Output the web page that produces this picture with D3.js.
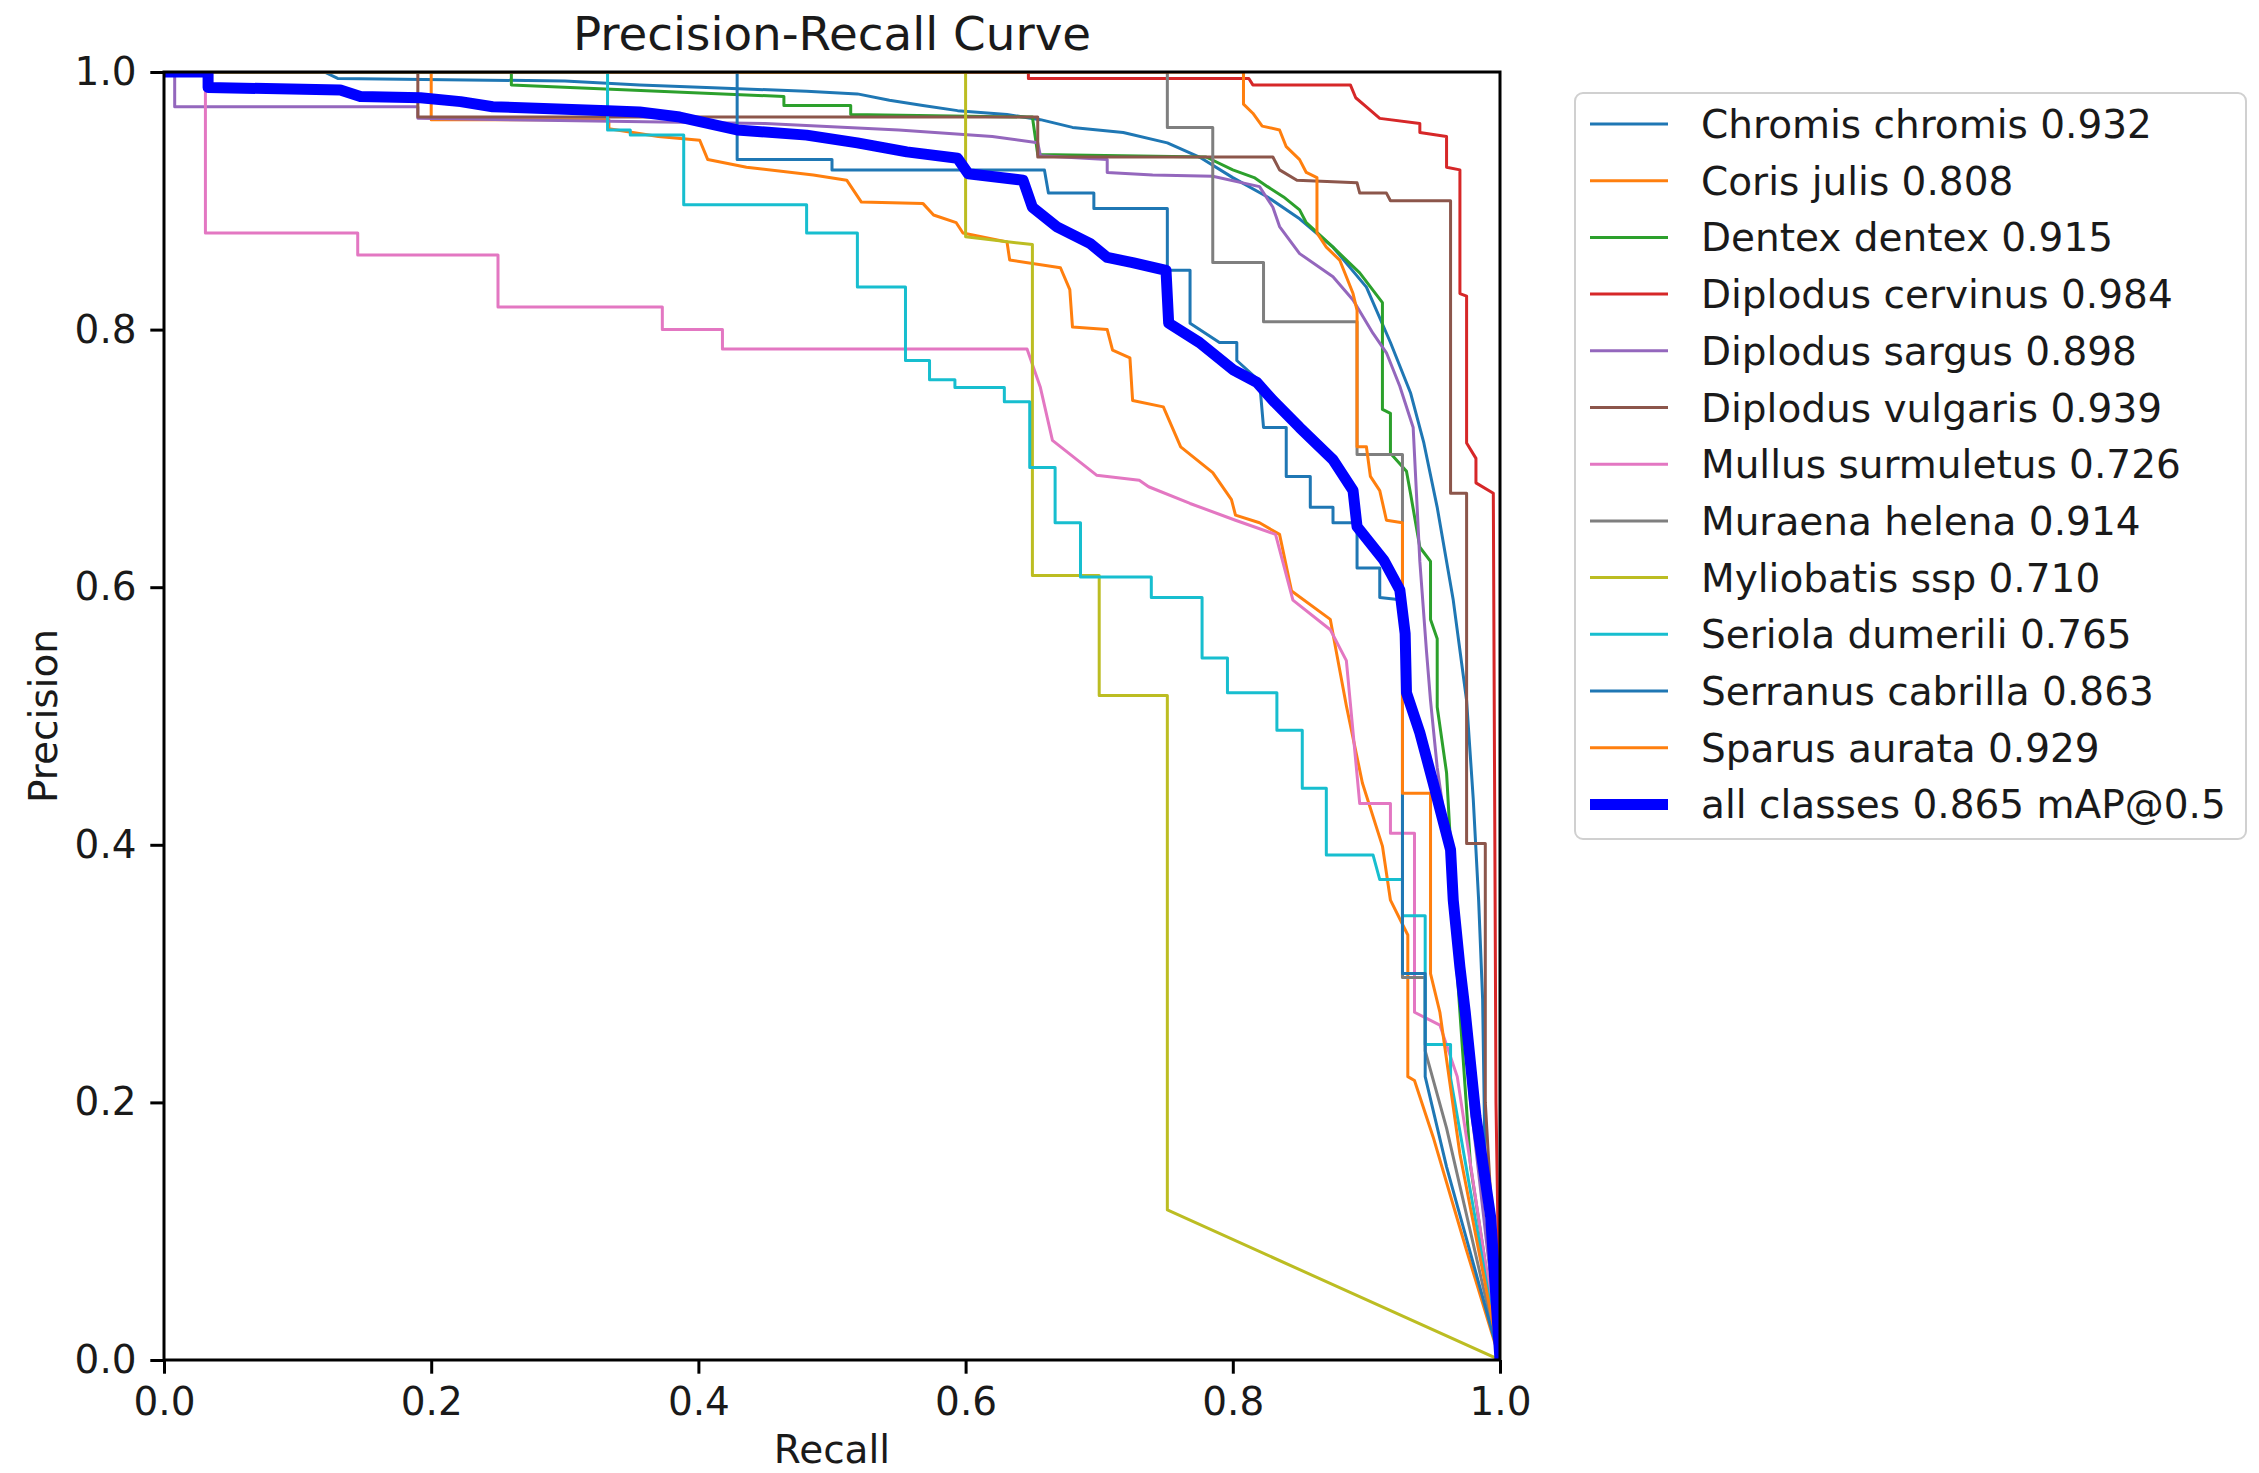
<!DOCTYPE html>
<html>
<head>
<meta charset="utf-8">
<script src="https://cdn.jsdelivr.net/npm/d3@7"></script>
<style>
  body { margin: 0; background: #fff; }
  svg { display: block; font-family: 'DejaVu Sans', sans-serif; }
</style>
</head>
<body>
<script>
// Chart settings
const width = 2259;
const height = 1473;
const margin = { top: 72, right: 759, bottom: 113, left: 164 };
const fontSize = 39;

// Data: class names and AP values
const classNames = [
  'Chromis chromis', 'Coris julis', 'Dentex dentex', 'Diplodus cervinus',
  'Diplodus sargus', 'Diplodus vulgaris', 'Mullus surmuletus', 'Muraena helena',
  'Myliobatis ssp', 'Seriola dumerili', 'Serranus cabrilla', 'Sparus aurata'
];
const classAP = [0.932, 0.808, 0.915, 0.984, 0.898, 0.939, 0.726, 0.914, 0.710, 0.765, 0.863, 0.929];
const allClassesAP = 0.865;

// Tick values
const xTicks = [0, 0.2, 0.4, 0.6, 0.8, 1.0];
const yTicks = [0, 0.2, 0.4, 0.6, 0.8, 1.0];

// Curves [recall, precision]
const chromisChromis = [[0,1],[0.12,1],[0.13,0.995],[0.3,0.993],[0.356,0.99],[0.406,0.988],[0.481,0.985],[0.519,0.983],[0.543,0.978],[0.568,0.974],[0.594,0.97],[0.631,0.967],[0.656,0.963],[0.68,0.957],[0.718,0.953],[0.751,0.945],[0.775,0.934],[0.8,0.918],[0.826,0.903],[0.85,0.886],[0.875,0.864],[0.9,0.833],[0.918,0.79],[0.933,0.751],[0.943,0.712],[0.953,0.662],[0.965,0.59],[0.975,0.512],[0.98,0.435],[0.984,0.357],[0.987,0.28],[0.989,0.14],[1,0]];
const corisJulis = [[0,1],[0.2,1],[0.2,0.963],[0.333,0.963],[0.333,0.956],[0.37,0.95],[0.401,0.947],[0.407,0.932],[0.436,0.926],[0.486,0.92],[0.511,0.916],[0.522,0.899],[0.568,0.898],[0.576,0.889],[0.593,0.883],[0.598,0.875],[0.631,0.868],[0.633,0.854],[0.671,0.848],[0.678,0.831],[0.68,0.802],[0.706,0.8],[0.71,0.784],[0.723,0.778],[0.725,0.745],[0.748,0.74],[0.761,0.709],[0.785,0.689],[0.799,0.668],[0.802,0.656],[0.82,0.65],[0.835,0.641],[0.844,0.597],[0.873,0.575],[0.885,0.508],[0.897,0.448],[0.912,0.399],[0.918,0.357],[0.931,0.33],[0.931,0.22],[0.936,0.217],[0.95,0.173],[0.975,0.085],[1,0]];
const dentexDentex = [[0,1],[0.26,1],[0.26,0.99],[0.37,0.985],[0.464,0.981],[0.464,0.974],[0.514,0.974],[0.514,0.967],[0.65,0.965],[0.654,0.936],[0.78,0.934],[0.8,0.924],[0.816,0.918],[0.826,0.911],[0.838,0.903],[0.85,0.893],[0.855,0.883],[0.875,0.864],[0.895,0.844],[0.912,0.821],[0.912,0.738],[0.918,0.735],[0.918,0.704],[0.93,0.69],[0.933,0.673],[0.94,0.631],[0.948,0.62],[0.948,0.575],[0.953,0.56],[0.953,0.507],[0.96,0.456],[0.963,0.4],[0.968,0.3],[0.978,0.15],[1,0]];
const diplodusCervinus = [[0,1],[0.647,1],[0.647,0.995],[0.812,0.995],[0.815,0.99],[0.888,0.99],[0.892,0.98],[0.9,0.973],[0.91,0.964],[0.94,0.96],[0.94,0.953],[0.96,0.95],[0.96,0.926],[0.97,0.924],[0.97,0.828],[0.975,0.826],[0.975,0.712],[0.982,0.7],[0.982,0.681],[0.995,0.673],[0.997,0.2],[1,0]];
const diplodusSargus = [[0,1],[0.008,1],[0.008,0.973],[0.19,0.973],[0.19,0.964],[0.45,0.96],[0.55,0.955],[0.62,0.95],[0.654,0.945],[0.656,0.935],[0.706,0.932],[0.706,0.922],[0.74,0.92],[0.785,0.919],[0.82,0.911],[0.83,0.895],[0.835,0.88],[0.85,0.859],[0.875,0.841],[0.89,0.823],[0.905,0.797],[0.915,0.782],[0.925,0.756],[0.935,0.724],[0.94,0.62],[0.945,0.55],[0.948,0.512],[0.953,0.46],[0.96,0.409],[0.968,0.332],[0.978,0.2],[1,0]];
const diplodusVulgaris = [[0,1],[0.19,1],[0.19,0.965],[0.654,0.965],[0.654,0.934],[0.83,0.934],[0.835,0.924],[0.848,0.916],[0.893,0.914],[0.895,0.906],[0.915,0.906],[0.918,0.9],[0.963,0.9],[0.963,0.673],[0.975,0.673],[0.975,0.401],[0.989,0.401],[0.989,0.2],[1,0]];
const mullusSurmuletus = [[0,1],[0.031,1],[0.031,0.875],[0.145,0.875],[0.145,0.858],[0.25,0.858],[0.25,0.8175],[0.373,0.8175],[0.373,0.8],[0.418,0.8],[0.418,0.785],[0.646,0.785],[0.656,0.755],[0.665,0.714],[0.698,0.687],[0.73,0.683],[0.737,0.678],[0.768,0.665],[0.802,0.652],[0.832,0.641],[0.845,0.59],[0.873,0.567],[0.885,0.543],[0.895,0.432],[0.918,0.432],[0.918,0.409],[0.936,0.409],[0.936,0.27],[0.955,0.26],[0.968,0.22],[1,0]];
const muraenaHelena = [[0,1],[0.751,1],[0.751,0.957],[0.785,0.957],[0.785,0.852],[0.823,0.852],[0.823,0.806],[0.893,0.806],[0.893,0.703],[0.927,0.703],[0.927,0.297],[0.944,0.297],[0.944,0.24],[0.96,0.18],[1,0]];
const myliobatisSsp = [[0,1],[0.6,1],[0.6,0.872],[0.65,0.866],[0.65,0.609],[0.7,0.609],[0.7,0.516],[0.751,0.516],[0.751,0.1165],[1,0]];
const seriolaDumerili = [[0,1],[0.332,1],[0.332,0.955],[0.349,0.955],[0.349,0.951],[0.389,0.951],[0.389,0.897],[0.481,0.897],[0.481,0.875],[0.519,0.875],[0.519,0.833],[0.555,0.833],[0.555,0.776],[0.573,0.776],[0.573,0.761],[0.592,0.761],[0.592,0.755],[0.629,0.755],[0.629,0.744],[0.648,0.744],[0.648,0.693],[0.667,0.693],[0.667,0.65],[0.686,0.65],[0.686,0.608],[0.739,0.608],[0.739,0.592],[0.777,0.592],[0.777,0.545],[0.796,0.545],[0.796,0.518],[0.833,0.518],[0.833,0.489],[0.852,0.489],[0.852,0.444],[0.87,0.444],[0.87,0.392],[0.905,0.392],[0.91,0.373],[0.927,0.373],[0.927,0.345],[0.944,0.345],[0.944,0.245],[0.963,0.245],[0.963,0.219],[1,0]];
const serranusCabrilla = [[0,1],[0.429,1],[0.429,0.932],[0.5,0.932],[0.5,0.924],[0.659,0.924],[0.662,0.906],[0.696,0.906],[0.696,0.894],[0.751,0.894],[0.751,0.846],[0.768,0.846],[0.768,0.805],[0.79,0.79],[0.803,0.79],[0.803,0.776],[0.82,0.76],[0.823,0.724],[0.84,0.724],[0.84,0.686],[0.858,0.686],[0.858,0.662],[0.875,0.662],[0.875,0.65],[0.893,0.65],[0.893,0.615],[0.91,0.615],[0.91,0.592],[0.927,0.59],[0.927,0.3],[0.944,0.3],[0.944,0.22],[0.96,0.15],[1,0]];
const sparusAurata = [[0,1],[0.808,1],[0.808,0.975],[0.815,0.968],[0.822,0.958],[0.835,0.955],[0.84,0.942],[0.85,0.932],[0.855,0.922],[0.863,0.918],[0.863,0.875],[0.87,0.864],[0.88,0.854],[0.89,0.828],[0.893,0.815],[0.893,0.709],[0.9,0.709],[0.903,0.686],[0.91,0.675],[0.915,0.652],[0.927,0.65],[0.927,0.44],[0.948,0.44],[0.948,0.3],[0.955,0.27],[0.97,0.16],[1,0]];
const allClasses = [[0,1],[0.033,1],[0.033,0.988],[0.132,0.986],[0.147,0.981],[0.192,0.98],[0.222,0.977],[0.246,0.973],[0.332,0.97],[0.356,0.969],[0.386,0.965],[0.429,0.955],[0.481,0.951],[0.519,0.945],[0.556,0.938],[0.594,0.933],[0.602,0.921],[0.643,0.916],[0.65,0.895],[0.668,0.88],[0.693,0.867],[0.706,0.856],[0.725,0.852],[0.75,0.846],[0.752,0.805],[0.775,0.79],[0.8,0.769],[0.818,0.759],[0.83,0.745],[0.85,0.724],[0.875,0.699],[0.89,0.675],[0.893,0.647],[0.913,0.621],[0.925,0.598],[0.929,0.564],[0.93,0.518],[0.94,0.487],[0.95,0.448],[0.963,0.396],[0.965,0.357],[0.97,0.305],[0.974,0.27],[0.982,0.189],[0.993,0.111],[1,0]];

const classCurves = [
  chromisChromis, corisJulis, dentexDentex, diplodusCervinus, diplodusSargus, diplodusVulgaris,
  mullusSurmuletus, muraenaHelena, myliobatisSsp, seriolaDumerili, serranusCabrilla, sparusAurata
];

// Series for drawing (matplotlib tab10 cycle, bold blue for all classes)
const series = classNames.map((name, i) => ({
  label: `${name} ${classAP[i].toFixed(3)}`,
  points: classCurves[i],
  color: d3.schemeCategory10[i % 10],
  width: 3
}));
series.push({
  label: `all classes ${allClassesAP.toFixed(3)} mAP@0.5`,
  points: allClasses,
  color: '#0000ff',
  width: 11
});

// SVG
const svg = d3.select('body')
  .append('svg')
  .attr('width', width)
  .attr('height', height);

svg.append('rect')
  .attr('width', width)
  .attr('height', height)
  .attr('fill', '#fff');

// Scales
const x = d3.scaleLinear()
  .domain([0, 1])
  .range([margin.left, width - margin.right]);

const y = d3.scaleLinear()
  .domain([0, 1])
  .range([height - margin.bottom, margin.top]);

// Clip to the axes area
svg.append('clipPath')
  .attr('id', 'plot-clip')
  .append('rect')
  .attr('x', x(0))
  .attr('y', y(1))
  .attr('width', x(1) - x(0))
  .attr('height', y(0) - y(1));

// Curves
const line = d3.line()
  .x(d => x(d[0]))
  .y(d => y(d[1]));

svg.append('g')
  .attr('clip-path', 'url(#plot-clip)')
  .selectAll('path')
  .data(series)
  .enter()
  .append('path')
  .attr('d', d => line(d.points))
  .attr('fill', 'none')
  .attr('stroke', d => d.color)
  .attr('stroke-width', d => d.width)
  .attr('stroke-linejoin', 'round');

// Axes
const tickLen = 13.7;
const xAxis = svg.append('g')
  .attr('transform', `translate(0, ${y(0)})`)
  .call(d3.axisBottom(x).tickValues(xTicks).tickFormat(d3.format('.1f')).tickSize(tickLen).tickPadding(13.7))
  .call(g => g.select('.domain').remove());

const yAxis = svg.append('g')
  .attr('transform', `translate(${x(0)}, 0)`)
  .call(d3.axisLeft(y).tickValues(yTicks).tickFormat(d3.format('.1f')).tickSize(tickLen).tickPadding(13.7))
  .call(g => g.select('.domain').remove());

[xAxis, yAxis].forEach(g => {
  g.selectAll('line').attr('stroke', '#000').attr('stroke-width', 3);
  g.selectAll('text')
    .attr('fill', '#1a1a1a')
    .style('font-size', fontSize + 'px')
    .style('font-family', "'DejaVu Sans', sans-serif");
});

// Frame
svg.append('rect')
  .attr('x', x(0))
  .attr('y', y(1))
  .attr('width', x(1) - x(0))
  .attr('height', y(0) - y(1))
  .attr('fill', 'none')
  .attr('stroke', '#000')
  .attr('stroke-width', 3);

// Titles
svg.append('text')
  .attr('x', (x(0) + x(1)) / 2)
  .attr('y', 50)
  .attr('text-anchor', 'middle')
  .attr('fill', '#1a1a1a')
  .style('font-size', '46.8px')
  .text('Precision-Recall Curve');

svg.append('text')
  .attr('x', (x(0) + x(1)) / 2)
  .attr('y', 1463)
  .attr('text-anchor', 'middle')
  .attr('fill', '#1a1a1a')
  .style('font-size', fontSize + 'px')
  .text('Recall');

svg.append('text')
  .attr('transform', `translate(57, ${(y(0) + y(1)) / 2}) rotate(-90)`)
  .attr('text-anchor', 'middle')
  .attr('fill', '#1a1a1a')
  .style('font-size', fontSize + 'px')
  .text('Precision');

// Legend
const legend = svg.append('g')
  .attr('transform', 'translate(1575, 93)');

legend.append('rect')
  .attr('width', 671)
  .attr('height', 746)
  .attr('rx', 8)
  .attr('fill', '#fff')
  .attr('fill-opacity', 0.8)
  .attr('stroke', '#d0d0d0')
  .attr('stroke-width', 2);

const rowStep = 56.7;
const rows = legend.selectAll('g.row')
  .data(series)
  .enter()
  .append('g')
  .attr('class', 'row')
  .attr('transform', (d, i) => `translate(0, ${31 + i * rowStep})`);

rows.append('line')
  .attr('x1', 15)
  .attr('x2', 93)
  .attr('stroke', d => d.color)
  .attr('stroke-width', d => d.width);

rows.append('text')
  .attr('x', 126)
  .attr('dy', '0.36em')
  .attr('fill', '#1a1a1a')
  .style('font-size', fontSize + 'px')
  .text(d => d.label);
</script>
</body>
</html>
